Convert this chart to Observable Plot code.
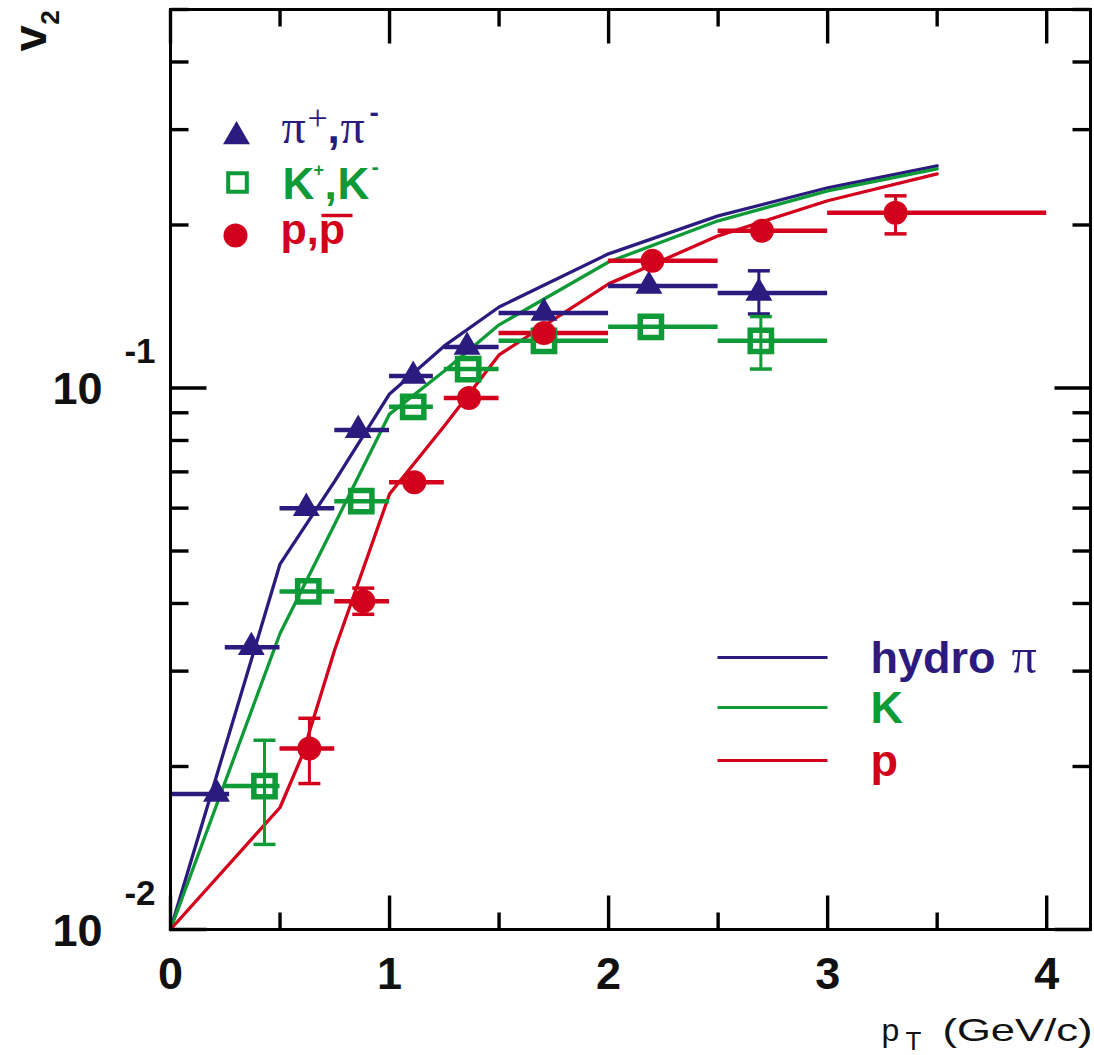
<!DOCTYPE html>
<html><head><meta charset="utf-8">
<script src="https://cdn.jsdelivr.net/npm/d3@7"></script>
<script src="https://cdn.jsdelivr.net/npm/@observablehq/plot@0.6"></script>
<style>body{margin:0;background:#fff}#chart{width:1094px;height:1055px}</style>
</head><body><div id="chart"></div>
<script>
// ---------- data ----------
// pi+, pi- : v2 vs pT, bin edges, error bars
const pionX   = [0.21, 0.369, 0.62, 0.857, 1.108, 1.354, 1.705, 2.184, 2.686];
const pionV2  = [0.0178, 0.0332, 0.0600, 0.0836, 0.1052, 0.1190, 0.1376, 0.1543, 0.1498];
const pionXlo = [0.0, 0.25, 0.5, 0.75, 1.0, 1.25, 1.5, 2.0, 2.5];
const pionXhi = [0.27, 0.5, 0.75, 1.0, 1.2, 1.5, 2.0, 2.5, 3.0];
const pionErrX  = [2.686];
const pionErrLo = [0.137];
const pionErrHi = [0.1646];

// K+, K-
const kaonX   = [0.429, 0.629, 0.871, 1.108, 1.359, 1.705, 2.193, 2.695];
const kaonV2  = [0.0184, 0.0421, 0.0618, 0.0923, 0.1084, 0.1222, 0.1297, 0.1222];
const kaonXlo = [0.25, 0.5, 0.75, 1.0, 1.25, 1.5, 2.0, 2.5];
const kaonXhi = [0.5, 0.75, 1.0, 1.2, 1.5, 2.0, 2.5, 3.0];
const kaonErrX  = [0.429, 2.695];
const kaonErrLo = [0.01436, 0.1084];
const kaonErrHi = [0.02236, 0.1355];

// p, pbar
const protonX   = [0.634, 0.88, 1.113, 1.363, 1.705, 2.2, 2.7, 3.31];
const protonV2  = [0.0216, 0.0404, 0.0670, 0.0958, 0.1264, 0.1717, 0.1951, 0.2107];
const protonXlo = [0.5, 0.75, 1.0, 1.25, 1.5, 2.0, 2.5, 3.0];
const protonXhi = [0.75, 1.0, 1.25, 1.5, 2.0, 2.5, 3.0, 4.0];
const protonErrX  = [0.634, 0.88, 3.31];
const protonErrLo = [0.0186, 0.0382, 0.1926];
const protonErrHi = [0.02455, 0.0427, 0.2264];

// hydro curves
const hydroPiX  = [0, 0.5, 0.75, 1.0, 1.25, 1.5, 2.0, 2.5, 3.0, 3.5];
const hydroPiV2 = [0.01, 0.0473, 0.0673, 0.0975, 0.1196, 0.1411, 0.1769, 0.2079, 0.2343, 0.2572];
const hydroKX   = [0, 0.5, 0.75, 1.0, 1.25, 1.5, 2.0, 2.5, 3.0, 3.5];
const hydroKV2  = [0.01, 0.0352, 0.0561, 0.0895, 0.1075, 0.1308, 0.1709, 0.2036, 0.2312, 0.254];
const hydroPX   = [0, 0.5, 0.6, 0.75, 1.0, 1.25, 1.5, 2.0, 2.5, 3.0, 3.5];
const hydroPV2  = [0.01, 0.0168, 0.0209, 0.0329, 0.0637, 0.0851, 0.1151, 0.1557, 0.191, 0.2217, 0.2486];

// axes / labels
const xMajor = [0, 1, 2, 3, 4];
const xMinor = [0.5, 1.5, 2.5, 3.5];
const xTickLabels = ["0", "1", "2", "3", "4"];
const yMajor = [0.01, 0.1];
const yMinor = [0.02, 0.03, 0.04, 0.05, 0.06, 0.07, 0.08, 0.09, 0.2, 0.3, 0.4, 0.5];
const yTickBase = ["10", "10"];
const yTickExp = ["-2", "-1"];
const xLabelParts = ["p", "T", "(GeV/c)"];
const yLabelParts = ["v", "2"];
const piLegend = ["π", "+", ",", "π", "-"];
const kLegend = ["K", "+", ",", "K", "-"];
const pLegend = ["p,p"];
const hydroLegend = ["hydro", "π", "K", "p"];

// ---------- styles ----------
const BLUE = "#2c1b7e", GREEN = "#0e9a36", RED = "#d2001c";
const W = 1094, H = 1055, ML = 170, MR = 4, MT = 9, MB = 126;
const SANS = "Liberation Sans, Arial, sans-serif";
const SERIF = "Liberation Serif, Times New Roman, serif";
const LINE = {draw(ctx, l) { ctx.moveTo(0, 0); ctx.lineTo(0, -l); }};

const zipPts = (xs, vs, lo, hi) => xs.map((x, i) => ({x, v: vs[i], lo: lo[i], hi: hi[i]}));
const zipErr = (xs, lo, hi) => xs.map((x, i) => ({x, lo: lo[i], hi: hi[i]}));
const zipLine = (xs, vs) => xs.map((x, i) => ({x, v: vs[i]}));

const pions = zipPts(pionX, pionV2, pionXlo, pionXhi);
const kaons = zipPts(kaonX, kaonV2, kaonXlo, kaonXhi);
const protons = zipPts(protonX, protonV2, protonXlo, protonXhi);
const pionErr = zipErr(pionErrX, pionErrLo, pionErrHi);
const kaonErr = zipErr(kaonErrX, kaonErrLo, kaonErrHi);
const protonErr = zipErr(protonErrX, protonErrLo, protonErrHi);

function seriesMarks(pts, err, color) {
  return [
    Plot.ruleY(pts, {y: "v", x1: "lo", x2: "hi", stroke: color, strokeWidth: 4.5}),
    Plot.ruleX(err, {x: "x", y1: "lo", y2: "hi", stroke: color, strokeWidth: 3}),
    Plot.vector(err, {x: "x", y: "lo", length: 22, rotate: 90, anchor: "middle", shape: LINE, stroke: color, strokeWidth: 3.5, strokeLinecap: "butt"}),
    Plot.vector(err, {x: "x", y: "hi", length: 22, rotate: 90, anchor: "middle", shape: LINE, stroke: color, strokeWidth: 3.5, strokeLinecap: "butt"})
  ];
}

// text at absolute pixel (baseline) position, expressed relative to frame's top-left
function seg(t, px, py, o) {
  return Plot.text([t], Object.assign({text: d => d, frameAnchor: "top-left", dx: px - ML, dy: py - MT,
    lineAnchor: "bottom", textAnchor: "start", fontFamily: SANS, fontWeight: "bold", fontSize: 44}, o));
}
function hline(px, py, len, color, w) {
  return Plot.vector([0], {frameAnchor: "top-left", dx: px - ML, dy: py - MT, length: len, rotate: 90,
    anchor: "start", shape: LINE, stroke: color, strokeWidth: w || 3.2, strokeLinecap: "butt"});
}

const tickV = (data, ch, anchor, rot, len) => Plot.vector(data, {[ch]: d => d, frameAnchor: anchor, length: len,
  rotate: rot, anchor: "start", shape: LINE, stroke: "black", strokeWidth: 3.4, strokeLinecap: "butt"});

const chart = Plot.plot({
  width: W, height: H,
  marginLeft: ML, marginRight: MR, marginTop: MT, marginBottom: MB,
  x: {domain: [0, 4.2], axis: null},
  y: {type: "log", domain: [0.01, 0.5], axis: null},
  style: {background: "white", fontFamily: SANS},
  marks: [
    // hydro curves
    Plot.line(zipLine(hydroPiX, hydroPiV2), {x: "x", y: "v", stroke: BLUE, strokeWidth: 3.3}),
    Plot.line(zipLine(hydroKX, hydroKV2), {x: "x", y: "v", stroke: GREEN, strokeWidth: 3.3}),
    Plot.line(zipLine(hydroPX, hydroPV2), {x: "x", y: "v", stroke: RED, strokeWidth: 3.3}),
    // data
    ...seriesMarks(pions, pionErr, BLUE),
    ...seriesMarks(kaons, kaonErr, GREEN),
    ...seriesMarks(protons, protonErr, RED),
    Plot.dot(pions, {x: "x", y: "v", symbol: "triangle", r: 10, fill: BLUE, stroke: "none"}),
    Plot.dot(kaons, {x: "x", y: "v", symbol: "square", r: 12, fill: "none", stroke: GREEN, strokeWidth: 5.5}),
    Plot.dot(protons, {x: "x", y: "v", symbol: "circle", r: 12, fill: RED, stroke: "none"}),
    // frame + inward ticks
    Plot.frame({stroke: "black", strokeWidth: 3}),
    tickV(xMajor, "x", "bottom", 0, 34), tickV(xMinor, "x", "bottom", 0, 17),
    tickV(xMajor, "x", "top", 180, 34), tickV(xMinor, "x", "top", 180, 17),
    tickV(yMajor, "y", "left", 90, 36), tickV(yMinor, "y", "left", 90, 18),
    tickV(yMajor, "y", "right", -90, 36), tickV(yMinor, "y", "right", -90, 18),
    // tick labels
    Plot.text(xMajor, {x: d => d, text: (d, i) => xTickLabels[i], frameAnchor: "bottom", dy: 59,
      lineAnchor: "bottom", textAnchor: "middle", fontSize: 45, fontWeight: "bold", fill: "#111"}),
    Plot.text(yMajor, {y: d => d, text: (d, i) => yTickBase[i], frameAnchor: "left", dx: -68, dy: 16,
      lineAnchor: "bottom", textAnchor: "end", fontSize: 45, fontWeight: "bold", fill: "#111"}),
    Plot.text(yMajor, {y: d => d, text: (d, i) => yTickExp[i], frameAnchor: "left", dx: -15, dy: -25,
      lineAnchor: "bottom", textAnchor: "end", fontSize: 35, fontWeight: "bold", fill: "#111"}),
    // axis titles
    seg(xLabelParts[0], 881, 1040, {fontWeight: "normal", fontSize: 32, fill: "#111"}),
    seg(xLabelParts[1], 905, 1049, {fontWeight: "normal", fontSize: 26, fill: "#111"}),
    seg(xLabelParts[2], 1092, 1040, {fontWeight: "normal", fontSize: 32, textAnchor: "end", fill: "#111"}),
    seg(yLabelParts[0], 45, 38, {rotate: -90, textAnchor: "middle", fontSize: 47, fill: "#111"}),
    seg(yLabelParts[1], 58, 17, {rotate: -90, textAnchor: "middle", fontSize: 26, fill: "#111"}),
    // top-left legend
    Plot.dot([0], {frameAnchor: "top-left", dx: 236 - ML, dy: 136 - MT, symbol: "triangle", r: 10, fill: BLUE, stroke: "none"}),
    Plot.dot([0], {frameAnchor: "top-left", dx: 237 - ML, dy: 182 - MT, symbol: "square", r: 10.5, fill: "none", stroke: GREEN, strokeWidth: 4}),
    Plot.dot([0], {frameAnchor: "top-left", dx: 235 - ML, dy: 235 - MT, symbol: "circle", r: 12, fill: RED, stroke: "none"}),
    seg(piLegend[0], 281, 142, {fontFamily: SERIF, fontWeight: "normal", fontSize: 48, fill: BLUE}),
    seg(piLegend[1], 307, 129, {fontFamily: SERIF, fontWeight: "normal", fontSize: 36, fill: BLUE}),
    seg(piLegend[2], 327, 142, {fontSize: 44, fill: BLUE}),
    seg(piLegend[3], 340, 142, {fontFamily: SERIF, fontWeight: "normal", fontSize: 48, fill: BLUE}),
    seg(piLegend[4], 369, 121, {fontSize: 28, fill: BLUE}),
    seg(kLegend[0], 282, 198, {fill: GREEN}),
    seg(kLegend[1], 313, 175, {fontSize: 18, fill: GREEN}),
    seg(kLegend[2], 324, 198, {fill: GREEN}),
    seg(kLegend[3], 337, 198, {fill: GREEN}),
    seg(kLegend[4], 371, 173, {fontSize: 22, fill: GREEN}),
    seg(pLegend[0], 280, 243, {fontSize: 43, fill: RED}),
    hline(321, 215, 31, RED, 3.5),
    // hydro legend
    hline(717, 657, 110, BLUE), hline(717, 707, 110, GREEN), hline(717, 760, 110, RED),
    seg(hydroLegend[0], 870, 672, {fontSize: 45, fill: BLUE}),
    seg(hydroLegend[1], 1011, 672, {fontFamily: SERIF, fontWeight: "normal", fontSize: 50, fill: BLUE}),
    seg(hydroLegend[2], 870, 722, {fontSize: 45, fill: GREEN}),
    seg(hydroLegend[3], 870, 775, {fontSize: 45, fill: RED})
  ]
});

document.getElementById("chart").appendChild(chart);
// the reference's unit label is drawn wide
d3.select(chart).selectAll("text").filter(function () { return this.textContent === "(GeV/c)"; })
  .attr("textLength", 150).attr("lengthAdjust", "spacingAndGlyphs");
</script></body></html>
